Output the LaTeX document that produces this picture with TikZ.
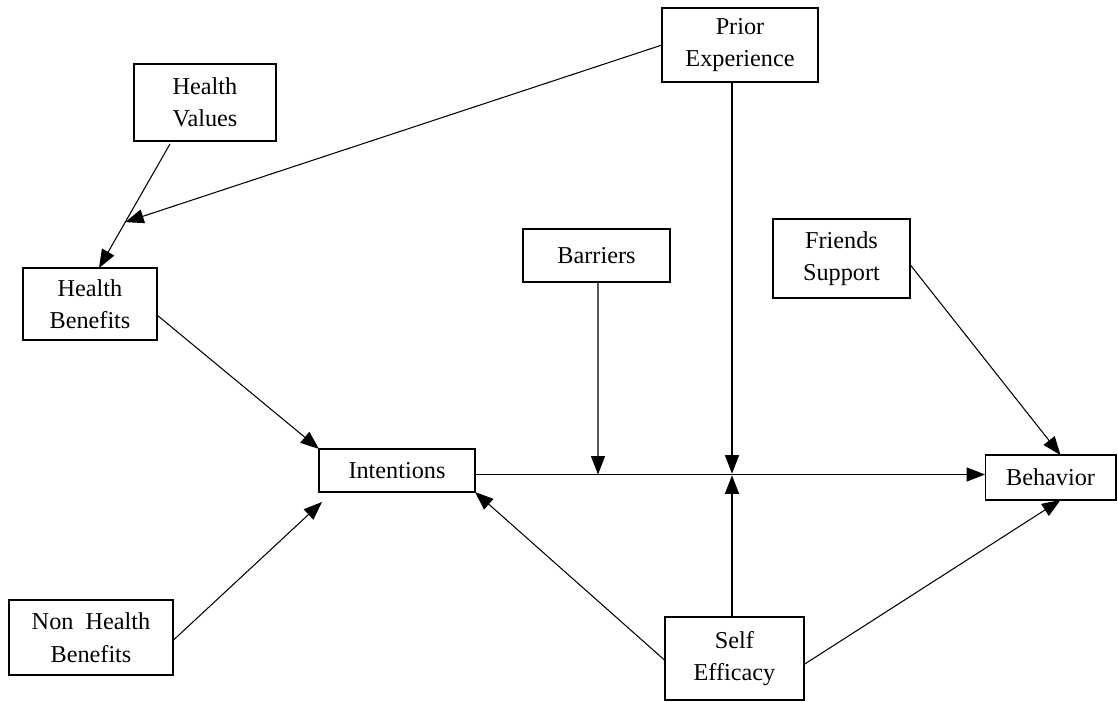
\documentclass[tikz,border=0pt]{standalone}
\usepackage{fontspec}
\setmainfont{Liberation Serif}
\usetikzlibrary{arrows.meta,calc}
\begin{document}
\begin{tikzpicture}[x=0.02cm, y=-0.02cm, line width=0.6pt, >={Triangle[length=10.5pt,width=8pt]}]
        \tikzstyle{every node}=[rectangle, draw, line width=0.6pt, inner sep=0pt, outer sep=0pt, align=center, font=\fontsize{13.8}{18.5}\selectfont]
        \useasboundingbox (0,0) rectangle (1118,702);

        \node[minimum width=3.12cm, minimum height=1.48cm] (prior)   at (740,45)    {Prior\\Experience};
        \node[minimum width=2.84cm, minimum height=1.54cm] (hval)    at (205,102.5) {Health\\Values};
        \node[minimum width=2.68cm, minimum height=1.44cm] (hben)    at (90,304)    {Health\\Benefits};
        \node[minimum width=2.94cm, minimum height=1.06cm] (barr)    at (596.5,255.5) {Barriers};
        \node[minimum width=2.74cm, minimum height=1.58cm] (friends) at (841.5,258.5) {Friends\\Support};

        \node[minimum width=3.12cm, minimum height=0.86cm] (intent)  at (397,470.5)  {Intentions};
        \node[minimum width=2.62cm, minimum height=0.90cm] (behav)   at (1050.5,477.5) {Behavior};

        \node[minimum width=3.28cm, minimum height=1.50cm] (nonh)    at (91,637.5)  {Non\ \ Health\\Benefits};
        \node[minimum width=2.78cm, minimum height=1.66cm] (self)    at (734.5,658.5) {Self\\Efficacy};

        % junctions on the intentions-behavior path
        \coordinate (j1) at (598,474.5);
        \coordinate (j2) at (732,474.5);
        \coordinate (hvs) at ($(hval.south)+(-35,3)$);
        \coordinate (hbe) at ($(hben.north)+(9,0)$);
        \coordinate (hvmid) at ($(hvs)!0.63!(hbe)$);

        \path [->] (hvs) edge (hbe);
        \path [->] (prior.west) edge (hvmid);

        \path [->] ($(hben.east)+(0,11)$) edge (intent.north west);
        \path [->] ($(nonh.east)+(0,3)$) edge ($(intent.south west)+(3,10)$);
        \path [->] ($(self.west)+(0,2)$) edge (intent.south east);

        \path [->] ($(intent.east)+(0,4)$) edge ($(behav.west)+(0,-3)$);
        \path [->] ($(barr.south)+(1.5,0)$) edge (j1);
        \path [->] ($(prior.south)+(-8,0)$) edge ([yshift=0.5pt]j2);
        \path [->] ($(self.north)+(-2.5,0)$) edge ([yshift=-0.5pt]j2);

        \path [->] ($(friends.east)+(0,6)$) edge ($(behav.north)+(10,0)$);
        \path [->] ($(self.east)+(0,6)$) edge ($(behav.south)+(10,0)$);
    \end{tikzpicture}
\end{document}
